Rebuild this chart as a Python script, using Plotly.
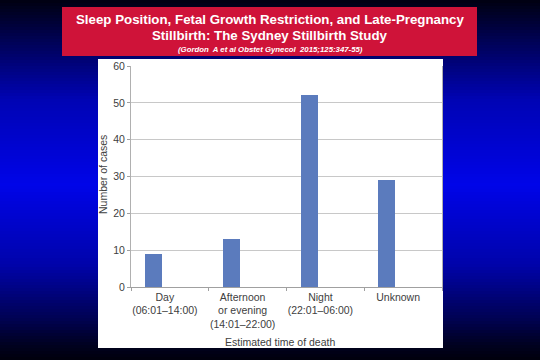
import plotly.graph_objects as go

# ---- data ----
categories = ["Day<br>(06:01–14:00)", "Afternoon<br>or evening<br>(14:01–22:00)",
              "Night<br>(22:01–06:00)", "Unknown"]
cases = [9, 13, 52, 29]
y_ticks = [0, 10, 20, 30, 40, 50, 60]
title_line1 = "Sleep Position, Fetal Growth Restriction, and Late-Pregnancy"
title_line2 = "Stillbirth: The Sydney Stillbirth Study"
citation = "(Gordon  A et al Obstet Gynecol  2015;125:347-55)"
y_title = "Number of cases"
x_title = "Estimated time of death"

# ---- geometry helpers ----
W, H = 540, 360
L, R, T, B = 131, 98, 66, 73
PW, PH = W - L - R, H - T - B

def px(x):
    return (x - L) / PW

def py(y):
    return (H - B - y) / PH

FONT = "Liberation Sans, Arial, sans-serif"
TXT = "#404040"

fig = go.Figure()
fig.add_trace(go.Bar(
    x=categories, y=cases, width=0.22, offset=-0.32,
    marker=dict(color="#5b7bbd", line=dict(width=0)),
    hoverinfo="skip", showlegend=False,
))

shapes = []
# background gradient (black -> blue -> black)
stops = [(0, 16), (35, 75), (100, 180), (185, 232), (265, 170), (320, 80), (345, 32), (360, 12)]
def blue_at(y):
    for (y0, c0), (y1, c1) in zip(stops[:-1], stops[1:]):
        if y0 <= y <= y1:
            return c0 + (c1 - c0) * (y - y0) / (y1 - y0)
    return stops[-1][1]
step = 3
for y in range(0, H, step):
    b = int(round(blue_at(y + step / 2)))
    g = int(round(b * 0.02))
    shapes.append(dict(type="rect", xref="paper", yref="paper", layer="below",
                       x0=px(-2), x1=px(W + 2), y0=py(y + step + 0.5), y1=py(y),
                       fillcolor=f"rgb(0,{g},{b})", line=dict(width=0)))
# red title box
shapes.append(dict(type="rect", xref="paper", yref="paper", layer="below",
                   x0=px(62), x1=px(477), y0=py(56), y1=py(7),
                   fillcolor="#cf1339", line=dict(width=0)))
# white chart panel
shapes.append(dict(type="rect", xref="paper", yref="paper", layer="below",
                   x0=px(98), x1=px(443), y0=py(348), y1=py(59),
                   fillcolor="#ffffff", line=dict(width=0)))

annotations = [
    dict(text=f"<b>{title_line1}</b>", x=px(270), y=py(19), xref="paper", yref="paper",
         showarrow=False, xanchor="center", yanchor="middle",
         font=dict(family=FONT, size=13.3, color="white")),
    dict(text=f"<b>{title_line2}</b>", x=px(270), y=py(35.5), xref="paper", yref="paper",
         showarrow=False, xanchor="center", yanchor="middle",
         font=dict(family=FONT, size=13.3, color="white")),
    dict(text=f"<b><i>{citation}</i></b>", x=px(270), y=py(49), xref="paper", yref="paper",
         showarrow=False, xanchor="center", yanchor="middle",
         font=dict(family=FONT, size=7.8, color="white")),
    dict(text=y_title, x=px(103), y=py(175), xref="paper", yref="paper", textangle=-90,
         showarrow=False, xanchor="center", yanchor="middle",
         font=dict(family=FONT, size=10.5, color=TXT)),
    dict(text=x_title, x=px(280), y=py(342), xref="paper", yref="paper",
         showarrow=False, xanchor="center", yanchor="middle",
         font=dict(family=FONT, size=10.5, color=TXT)),
]

fig.update_layout(
    width=W, height=H,
    margin=dict(l=L, r=R, t=T, b=B, pad=0),
    paper_bgcolor="#000030", plot_bgcolor="rgba(0,0,0,0)",
    shapes=shapes, annotations=annotations,
    font=dict(family=FONT, size=10.5, color=TXT),
    bargap=0,
    xaxis=dict(type="category", tickson="boundaries", ticks="outside", ticklen=3,
               tickcolor="#a0a0a0", showline=True, linecolor="#a0a0a0", linewidth=1,
               showgrid=False, tickfont=dict(family=FONT, size=10.5, color=TXT),
               ticklabelshift=-5, fixedrange=True, range=[-0.5, 3.5]),
    yaxis=dict(range=[0, 60], tickvals=y_ticks, ticks="outside", ticklen=3,
               tickcolor="#a0a0a0", showline=True, mirror=True, linecolor="#b0b0b0",
               linewidth=1, showgrid=True, gridcolor="#c8c8c8", gridwidth=1,
               zeroline=False, tickfont=dict(family=FONT, size=10.5, color=TXT),
               fixedrange=True),
)

fig.write_html("out.html", config={"displayModeBar": False},
               post_script="document.body.style.margin='0';document.body.style.background='#000010';")
